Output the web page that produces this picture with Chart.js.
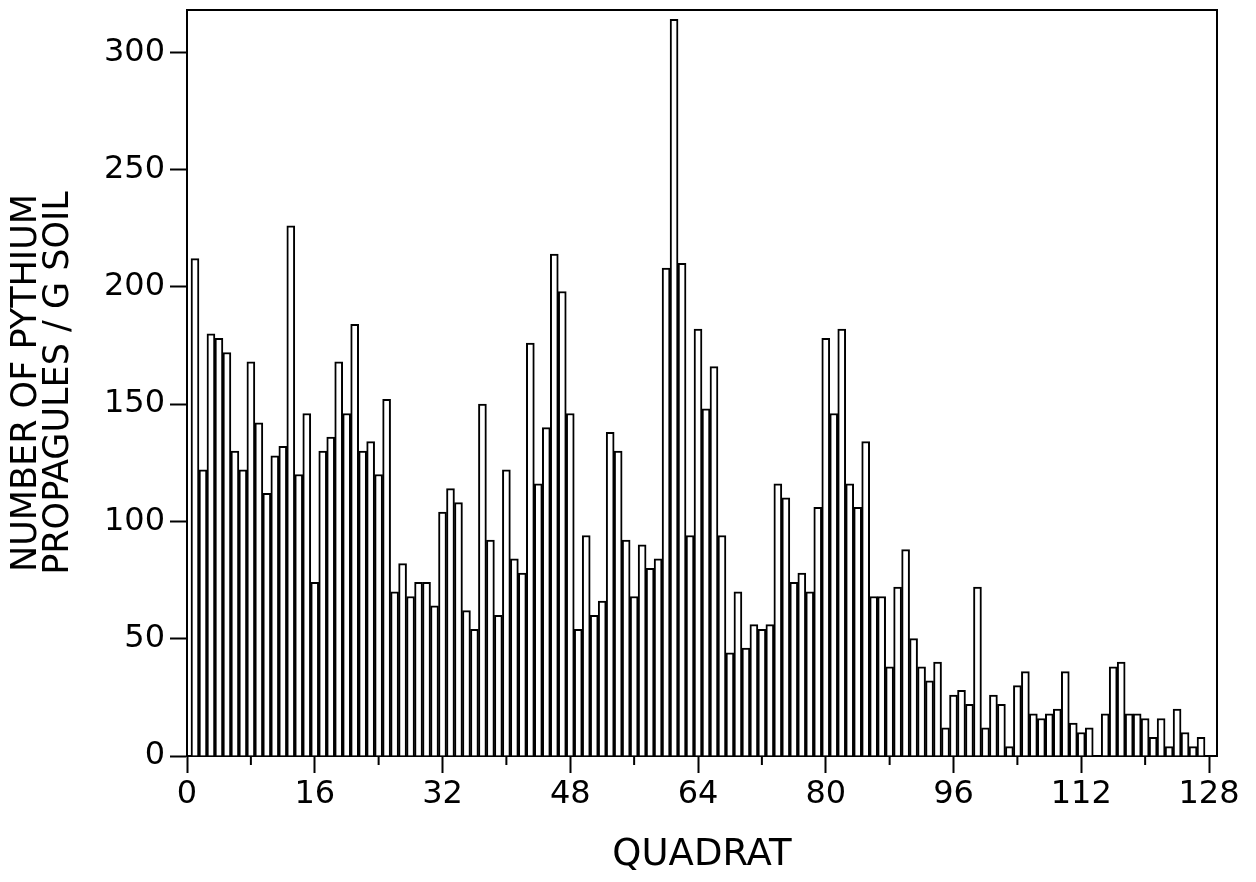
<!DOCTYPE html>
<html>
<head>
<meta charset="utf-8">
<script src="https://cdn.jsdelivr.net/npm/chart.js@4.4.1/dist/chart.umd.min.js"></script>
<style>
  html, body { margin: 0; padding: 0; background: #fff; }
</style>
</head>
<body>
<canvas id="chart" width="1256" height="882"></canvas>
<script>
// quadrat numbers along the transect
var quadrats = [
    1, 2, 3, 4, 5, 6, 7, 8, 9, 10, 11, 12, 13, 14, 15, 16,
    17, 18, 19, 20, 21, 22, 23, 24, 25, 26, 27, 28, 29, 30, 31, 32,
    33, 34, 35, 36, 37, 38, 39, 40, 41, 42, 43, 44, 45, 46, 47, 48,
    49, 50, 51, 52, 53, 54, 55, 56, 57, 58, 59, 60, 61, 62, 63, 64,
    65, 66, 67, 68, 69, 70, 71, 72, 73, 74, 75, 76, 77, 78, 79, 80,
    81, 82, 83, 84, 85, 86, 87, 88, 89, 90, 91, 92, 93, 94, 95, 96,
    97, 98, 99, 100, 101, 102, 103, 104, 105, 106, 107, 108, 109, 110, 111, 112,
    113, 114, 115, 116, 117, 118, 119, 120, 121, 122, 123, 124, 125, 126, 127
];

// propagules per g soil
var propagules = [
    212, 122, 180, 178, 172, 130, 122, 168, 142, 112, 128, 132, 226, 120, 146, 74,
    130, 136, 168, 146, 184, 130, 134, 120, 152, 70, 82, 68, 74, 74, 64, 104,
    114, 108, 62, 54, 150, 92, 60, 122, 84, 78, 176, 116, 140, 214, 198, 146,
    54, 94, 60, 66, 138, 130, 92, 68, 90, 80, 84, 208, 314, 210, 94, 182,
    148, 166, 94, 44, 70, 46, 56, 54, 56, 116, 110, 74, 78, 70, 106, 178,
    146, 182, 116, 106, 134, 68, 68, 38, 72, 88, 50, 38, 32, 40, 12, 26,
    28, 22, 72, 12, 26, 22, 4, 30, 36, 18, 16, 18, 20, 36, 14, 10,
    12, 0, 18, 38, 40, 18, 18, 16, 8, 16, 4, 20, 10, 4, 8
];

var minorTicks = [8, 24, 40, 56, 72, 88, 104, 120];

var points = quadrats.map(function(q, i) {
    return { x: q, y: propagules[i] };
});

// top/right frame and the short ticks between the labelled ones
var framePlugin = {
    id: 'frame',
    afterDraw: function(chart) {
        var a = chart.chartArea;
        var c = chart.ctx;
        var xs = chart.scales.x;
        c.save();
        c.strokeStyle = '#000';
        c.lineWidth = 2;
        c.beginPath();
        c.moveTo(a.left, a.top);
        c.lineTo(a.right, a.top);
        c.lineTo(a.right, a.bottom);
        minorTicks.forEach(function(v) {
            var px = xs.getPixelForValue(v);
            c.moveTo(px, a.bottom);
            c.lineTo(px, a.bottom + 9);
        });
        c.stroke();
        c.restore();
    }
};

var tickFont = { family: 'DejaVu Sans', size: 32 };

var ctx = document.getElementById('chart').getContext('2d');
var pythiumChart = new Chart(ctx, {
    type: 'bar',
    data: {
        datasets: [{
            data: points,
            backgroundColor: '#fff',
            borderColor: '#000',
            borderWidth: 2,
            borderSkipped: 'start',
            barPercentage: 1,
            categoryPercentage: 1
        }]
    },
    options: {
        responsive: false,
        animation: false,
        layout: { padding: { top: 10, right: 39, left: 0, bottom: 0 } },
        plugins: {
            legend: { display: false },
            tooltip: { enabled: false }
        },
        scales: {
            x: {
                type: 'linear',
                min: 0,
                max: 129,
                offset: false,
                afterFit: function(s) {
                    s.height = 126;
                    s.paddingLeft = 0;
                    s.paddingRight = 0;
                },
                ticks: {
                    stepSize: 16,
                    includeBounds: false,
                    autoSkip: false,
                    maxRotation: 0,
                    padding: 2,
                    color: '#000',
                    font: tickFont
                },
                grid: { offset: false, drawOnChartArea: false, tickLength: 17, tickWidth: 2, tickColor: '#000' },
                border: { color: '#000', width: 2 },
                title: {
                    display: true,
                    text: 'QUADRAT',
                    color: '#000',
                    font: { family: 'DejaVu Sans', size: 37 },
                    padding: { top: 0, bottom: 4 }
                }
            },
            y: {
                min: 0,
                max: 318,
                afterFit: function(s) {
                    s.width = 187;
                    s.paddingTop = 0;
                    s.paddingBottom = 0;
                },
                ticks: {
                    stepSize: 50,
                    includeBounds: false,
                    padding: 5,
                    color: '#000',
                    font: tickFont
                },
                grid: { drawOnChartArea: false, tickLength: 17, tickWidth: 2, tickColor: '#000' },
                border: { color: '#000', width: 2 },
                title: {
                    display: true,
                    text: ['NUMBER OF PYTHIUM', 'PROPAGULES / G SOIL'],
                    color: '#000',
                    font: { family: 'DejaVu Sans', size: 35, lineHeight: 0.92 },
                    padding: { top: 11, bottom: 0 }
                }
            }
        }
    },
    plugins: [framePlugin]
});
</script>
</body>
</html>
